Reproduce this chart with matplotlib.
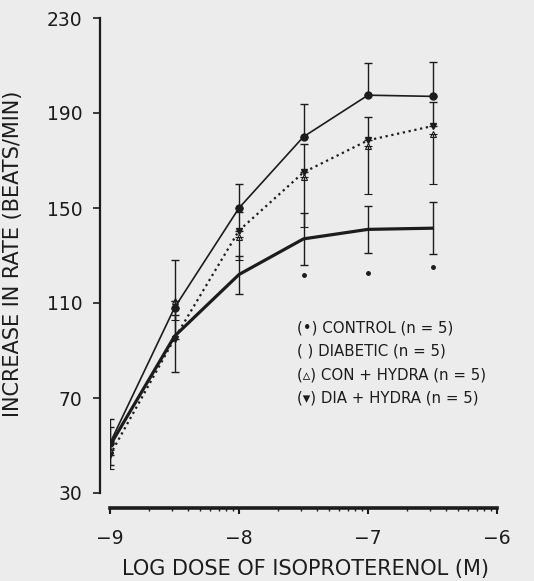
import numpy as np
import matplotlib
matplotlib.use("Agg")
import matplotlib.pyplot as plt

# log dose of isoproterenol (M)
dose = [-9, -8.5, -8, -7.5, -7, -6.5]

# increase in rate (beats/min)
control = [51, 108, 150, 180, 197.5, 197]
control_err = [10, 20, 10, 14, 13.5, 14.5]          # upper bars only

diabetic = [50, 96, 122, 137, 141, 141.5]
diabetic_err = [8, 15, 8, 11, 10, 11]

con_hydra = [48, 111, 138, 163, 176, 181]
con_hydra_err = [8, 8, 10, 21, 20, 21]              # lower bars only

dia_hydra = [46, 95, 140.5, 165, 178.5, 184.5]
dia_hydra_err = [6, 10, 8, 12, 10, 10]              # upper bars only

# loose dots under the diabetic bars
dot_x = [-7.5, -7, -6.5]
dot_y = [122, 122.5, 125]

legend_lines = ["(\u2022) CONTROL (n = 5)",
                "( ) DIABETIC (n = 5)",
                "(\u25b5) CON + HYDRA (n = 5)",
                "(\u25be) DIA + HYDRA (n = 5)"]

yticks = [30, 70, 110, 150, 190, 230]
xticks = [-9, -8, -7, -6]

ink = "#1c1c1c"
plt.rcParams["font.family"] = ["DejaVu Sans"]

fig = plt.figure(figsize=(5.34, 5.81), dpi=100, facecolor="#ececec")
ax = fig.add_axes([110/534, 1-493/581, 387/534, 475/581])
ax.set_facecolor("none")

zeros = np.zeros(len(dose))
ax.errorbar(dose, control, yerr=[zeros, control_err], color=ink, lw=1.2,
            marker="o", ms=5, elinewidth=1, capsize=3, capthick=1)
ax.errorbar(dose, diabetic, yerr=diabetic_err, color=ink, lw=2.3,
            elinewidth=1, capsize=3, capthick=1)
ax.errorbar(dose, con_hydra, yerr=[con_hydra_err, zeros], color=ink, lw=0,
            marker="^", ms=5, mfc="none", mew=0.8, elinewidth=1, capsize=3, capthick=1)
ax.errorbar(dose, dia_hydra, yerr=[zeros, dia_hydra_err], color=ink, lw=1.6, ls=":",
            marker="v", ms=5, elinewidth=1, capsize=3, capthick=1)
ax.plot(dot_x, dot_y, "o", color=ink, ms=2.5, ls="none")

ax.set_xlim(-9, -6)
ax.set_ylim(30, 230)
ax.set_yticks(yticks)
ax.set_xticks(xticks)
ax.set_xticklabels(["\u2212%d" % abs(v) for v in xticks])
minors = [d + np.log10(k) for d in xticks[:-1] for k in range(2, 10)]
ax.set_xticks(minors, minor=True)

for s in ["top", "right"]:
    ax.spines[s].set_visible(False)
ax.spines["left"].set_position(("outward", 7))
ax.spines["bottom"].set_position(("outward", 11))
ax.spines["left"].set_linewidth(1.6)
ax.spines["bottom"].set_linewidth(2.6)
ax.spines["left"].set_color(ink)
ax.spines["bottom"].set_color(ink)

ax.tick_params(axis="y", direction="out", length=5, width=1.2, colors=ink,
               labelsize=13.5, pad=8)
ax.tick_params(axis="x", which="major", direction="out", length=4, width=1.5,
               colors=ink, labelsize=13.5, pad=11)
ax.tick_params(axis="x", which="minor", direction="out", length=2.5, width=1,
               colors=ink)

fig.text(13/534, 1-254/581, "INCREASE IN RATE (BEATS/MIN)", rotation=90,
         ha="center", va="center", fontsize=15, color=ink)
fig.text(305/534, 1-569/581, "LOG DOSE OF ISOPROTERENOL (M)",
         ha="center", va="center", fontsize=15, color=ink)

for i, line in enumerate(legend_lines):
    fig.text(297/534, 1-(328 + 23.3*i)/581, line, ha="left", va="center",
             fontsize=10.8, color=ink)

fig.savefig("out.png", dpi=100, facecolor=fig.get_facecolor())
